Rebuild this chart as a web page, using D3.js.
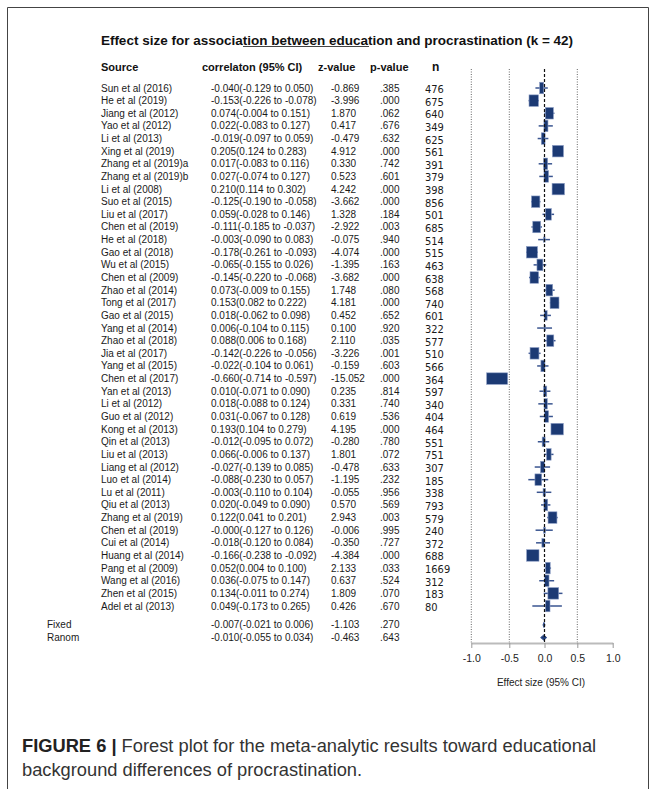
<!DOCTYPE html>
<html>
<head>
<meta charset="utf-8">
<script src="https://cdn.jsdelivr.net/npm/d3@7"></script>
<style>
  html, body { margin: 0; padding: 0; background: #fff; }
  svg text { font-family: "Liberation Sans", Arial, Helvetica, sans-serif; }
</style>
</head>
<body>
<svg id="chart" width="659" height="789"></svg>
<script>
// ---------- DATA ----------
const studies = ["Sun et al (2016)","He et al (2019)","Jiang et al (2012)","Yao et al (2012)","Li et al (2013)",
  "Xing et al (2019)","Zhang et al (2019)a","Zhang et al (2019)b","Li et al (2008)","Suo et al (2015)",
  "Liu et al (2017)","Chen et al (2019)","He et al (2018)","Gao et al (2018)","Wu et al (2015)",
  "Chen et al (2009)","Zhao et al (2014)","Tong et al (2017)","Gao et al (2015)","Yang et al (2014)",
  "Zhao et al (2018)","Jia et al (2017)","Yang et al (2015)","Chen et al (2017)","Yan et al (2013)",
  "Li et al (2012)","Guo et al (2012)","Kong et al (2013)","Qin et al (2013)","Liu et al (2013)",
  "Liang et al (2012)","Luo et al (2014)","Lu et al (2011)","Qiu et al (2013)","Zhang et al (2019)",
  "Chen et al (2019)","Cui et al (2014)","Huang et al (2014)","Pang et al (2009)","Wang et al (2016)",
  "Zhen et al (2015)","Adel et al (2013)"];
const corr  = [-0.040,-0.153,0.074,0.022,-0.019,0.205,0.017,0.027,0.210,-0.125,
  0.059,-0.111,-0.003,-0.178,-0.065,-0.145,0.073,0.153,0.018,0.006,
  0.088,-0.142,-0.022,-0.660,0.010,0.018,0.031,0.193,-0.012,0.066,
  -0.027,-0.088,-0.003,0.020,0.122,-0.000,-0.018,-0.166,0.052,0.036,
  0.134,0.049];
const lower = [-0.129,-0.226,-0.004,-0.083,-0.097,0.124,-0.083,-0.074,0.114,-0.190,
  -0.028,-0.185,-0.090,-0.261,-0.155,-0.220,-0.009,0.082,-0.062,-0.104,
  0.006,-0.226,-0.104,-0.714,-0.071,-0.088,-0.067,0.104,-0.095,-0.006,
  -0.139,-0.230,-0.110,-0.049,0.041,-0.127,-0.120,-0.238,0.004,-0.075,
  -0.011,-0.173];
const upper = [0.050,-0.078,0.151,0.127,0.059,0.283,0.116,0.127,0.302,-0.058,
  0.146,-0.037,0.083,-0.093,0.026,-0.068,0.155,0.222,0.098,0.115,
  0.168,-0.056,0.061,-0.597,0.090,0.124,0.128,0.279,0.072,0.137,
  0.085,0.057,0.104,0.090,0.201,0.126,0.084,-0.092,0.100,0.147,
  0.274,0.265];
const zValues = [-0.869,-3.996,1.870,0.417,-0.479,4.912,0.330,0.523,4.242,-3.662,
  1.328,-2.922,-0.075,-4.074,-1.395,-3.682,1.748,4.181,0.452,0.100,
  2.110,-3.226,-0.159,-15.052,0.235,0.331,0.619,4.195,-0.280,1.801,
  -0.478,-1.195,-0.055,0.570,2.943,-0.006,-0.350,-4.384,2.133,0.637,
  1.809,0.426];
const pValues = [0.385,0.000,0.062,0.676,0.632,0.000,0.742,0.601,0.000,0.000,
  0.184,0.003,0.940,0.000,0.163,0.000,0.080,0.000,0.652,0.920,
  0.035,0.001,0.603,0.000,0.814,0.740,0.536,0.000,0.780,0.072,
  0.633,0.232,0.956,0.569,0.003,0.995,0.727,0.000,0.033,0.524,
  0.070,0.670];
const sampleN = [476,675,640,349,625,561,391,379,398,856,
  501,685,514,515,463,638,568,740,601,322,
  577,510,566,364,597,340,404,464,551,751,
  307,185,338,793,579,240,372,688,1669,312,
  183,80];
// relative weights (%)
const weights = [1.5,3.5,3.0,1.5,1.4,4.1,1.5,1.7,4.6,3.1,
  2.2,2.9,0.6,4.1,2.2,3.2,2.5,3.3,1.1,0.6,
  2.6,3.3,1.5,7.8,1.2,1.2,1.5,4.6,1.1,1.7,
  1.5,2.5,0.9,1.4,3.3,0.7,1.0,4.6,1.7,1.6,
  4.0,1.7];
const summaryNames = ["Fixed","Ranom"];
const summaryCorr  = [-0.007,-0.010];
const summaryLower = [-0.021,-0.055];
const summaryUpper = [0.006,0.034];
const summaryZ     = [-1.103,-0.463];
const summaryP     = [0.270,0.643];
const tickValues = [-1.0,-0.5,0.0,0.5,1.0];
const headers = ["Source","correlaton (95% CI)","z-value","p-value","n"];
const titleText = "Effect size for association between education and procrastination (k = 42)";
const axisTitle = "Effect size (95% CI)";
const captionBold = "FIGURE 6 |";
const captionLine1 = " Forest plot for the meta-analytic results toward educational";
const captionLine2 = "background differences of procrastination.";

// ---------- HELPERS ----------
const f3 = v => ((v < 0 || Object.is(v, -0)) ? "-" : "") + Math.abs(v).toFixed(3);
const fp = v => v.toFixed(3).replace(/^0/, "");
const ciText = (c, l, u) => `${f3(c)}(${f3(l)} to ${f3(u)})`;

// ---------- SCALES ----------
const svg = d3.select("#chart");
svg.append("rect").attr("width", 659).attr("height", 789).attr("fill", "#fff");

const x = d3.scaleLinear().domain(tickValues).range([471.3, 509.3, 544.5, 577.3, 612.7]);
const y = d3.scaleLinear().domain([0, 41]).range([88, 606]);
const ySum = i => y(42.5 + i);
const wScale = d3.scaleLinear().domain([0, 1]).range([0, 2.69]);

const colSource = 101, colCorr = 211, colZ = 331, colP = 380, colN = 425;
const axisY = 643, plotTop = 69;

// frame
svg.append("path").attr("d", "M7.5,800V7.5H648.5V800")
  .attr("fill", "none").attr("stroke", "#444").attr("stroke-width", 1);

// title
svg.append("text").attr("x", 337).attr("y", 40).attr("text-anchor", "middle")
  .attr("dominant-baseline", "central").attr("font-weight", "bold")
  .attr("font-size", 13.5).attr("fill", "#111").text(titleText);
svg.append("line").attr("x1", 243).attr("x2", 369).attr("y1", 46.5).attr("y2", 46.5)
  .attr("stroke", "#444").attr("stroke-width", 1);

// headers
const headerX = [colSource, 202, 318, 370, 432];
svg.append("g").selectAll("text").data(headers).join("text")
  .attr("x", (d, i) => headerX[i]).attr("y", 67).attr("dominant-baseline", "central")
  .attr("font-weight", "bold").attr("font-size", (d, i) => i === 4 ? 12 : 11)
  .attr("fill", "#111").text(d => d);

// table rows
const rows = svg.append("g").attr("font-size", 10).attr("fill", "#1a1a1a");
const idx = d3.range(studies.length);
rows.selectAll(".src").data(idx).join("text").attr("class", "src")
  .attr("x", colSource).attr("y", i => y(i)).attr("dominant-baseline", "central")
  .text(i => studies[i]);
rows.selectAll(".ci").data(idx).join("text").attr("class", "ci")
  .attr("x", colCorr).attr("y", i => y(i)).attr("dominant-baseline", "central")
  .text(i => ciText(corr[i], lower[i], upper[i]));
rows.selectAll(".z").data(idx).join("text").attr("class", "z")
  .attr("x", colZ).attr("y", i => y(i)).attr("dominant-baseline", "central")
  .text(i => f3(zValues[i]));
rows.selectAll(".p").data(idx).join("text").attr("class", "p")
  .attr("x", colP).attr("y", i => y(i)).attr("dominant-baseline", "central")
  .text(i => fp(pValues[i]));
rows.selectAll(".n").data(idx).join("text").attr("class", "n")
  .attr("x", colN).attr("y", i => y(i) + 1.5).attr("dominant-baseline", "central")
  .style("font-family", "'Liberation Sans Narrow', 'Arial Narrow', 'DejaVu Sans Condensed', sans-serif")
  .attr("font-size", 11)
  .text(i => sampleN[i]);

// summary rows text
const sIdx = d3.range(summaryNames.length);
rows.selectAll(".sname").data(sIdx).join("text").attr("class", "sname")
  .attr("x", 47).attr("y", i => ySum(i)).attr("dominant-baseline", "central")
  .text(i => summaryNames[i]);
rows.selectAll(".sci").data(sIdx).join("text").attr("class", "sci")
  .attr("x", colCorr).attr("y", i => ySum(i)).attr("dominant-baseline", "central")
  .text(i => ciText(summaryCorr[i], summaryLower[i], summaryUpper[i]));
rows.selectAll(".sz").data(sIdx).join("text").attr("class", "sz")
  .attr("x", colZ).attr("y", i => ySum(i)).attr("dominant-baseline", "central")
  .text(i => f3(summaryZ[i]));
rows.selectAll(".sp").data(sIdx).join("text").attr("class", "sp")
  .attr("x", colP).attr("y", i => ySum(i)).attr("dominant-baseline", "central")
  .text(i => fp(summaryP[i]));

// gridlines
const plot = svg.append("g");
plot.selectAll(".grid").data(tickValues.filter(t => t !== 0 && t !== 1)).join("line")
  .attr("class", "grid")
  .attr("x1", d => x(d)).attr("x2", d => x(d))
  .attr("y1", plotTop).attr("y2", axisY)
  .attr("stroke", "#666").attr("stroke-width", 1).attr("stroke-dasharray", "1,1.5");

// CI lines
const navy = "#1c3a74";
plot.selectAll(".ciLine").data(idx).join("line").attr("class", "ciLine")
  .attr("x1", i => x(lower[i])).attr("x2", i => x(upper[i]))
  .attr("y1", i => y(i)).attr("y2", i => y(i))
  .attr("stroke", "#3a5590").attr("stroke-width", 1.5);

// boxes
plot.selectAll(".box").data(idx).join("rect").attr("class", "box")
  .attr("x", i => x(corr[i]) - wScale(weights[i]) / 2)
  .attr("y", i => y(i) - Math.min(11.5, 3.2 * wScale(weights[i])) / 2)
  .attr("width", i => wScale(weights[i]))
  .attr("height", i => Math.min(11.5, 3.2 * wScale(weights[i])))
  .attr("fill", navy).attr("stroke", "#8a9cc4").attr("stroke-width", 0.6);

// summary diamonds
plot.selectAll(".diamond").data(sIdx).join("path").attr("class", "diamond")
  .attr("d", i => {
    const yc = ySum(i), h = 2.6;
    return `M${x(summaryLower[i])},${yc}L${x(summaryCorr[i])},${yc - h}L${x(summaryUpper[i])},${yc}L${x(summaryCorr[i])},${yc + h}Z`;
  })
  .attr("fill", navy).attr("stroke", "#3a5590").attr("stroke-width", 1);

// zero line
plot.append("line").attr("x1", x(0)).attr("x2", x(0)).attr("y1", plotTop).attr("y2", axisY)
  .attr("stroke", "#111").attr("stroke-width", 1.2).attr("stroke-dasharray", "3,2");

// axis
const axis = svg.append("g").attr("transform", `translate(0,${axisY})`)
  .call(d3.axisBottom(x).tickValues(tickValues).tickFormat(d => d.toFixed(1))
    .tickSize(5).tickSizeOuter(0).tickPadding(7));
axis.select(".domain").attr("stroke", "#bbb").attr("stroke-width", 2);
axis.selectAll(".tick line").attr("stroke", "#999");
axis.selectAll(".tick text").attr("font-size", 10.5).attr("fill", "#222")
  .attr("font-family", "'Liberation Sans', Arial, sans-serif");

svg.append("text").attr("x", 541).attr("y", 682).attr("text-anchor", "middle")
  .attr("dominant-baseline", "central").attr("font-size", 10).attr("fill", "#222")
  .text(axisTitle);

// caption
const cap1 = svg.append("text").attr("x", 22).attr("y", 745).attr("dominant-baseline", "central")
  .attr("font-size", 18.3).attr("fill", "#333");
cap1.append("tspan").attr("font-weight", "bold").attr("fill", "#222").text(captionBold);
cap1.append("tspan").text(captionLine1);
svg.append("text").attr("x", 22).attr("y", 769).attr("dominant-baseline", "central")
  .attr("font-size", 18.3).attr("fill", "#333").text(captionLine2);
</script>
</body>
</html>
